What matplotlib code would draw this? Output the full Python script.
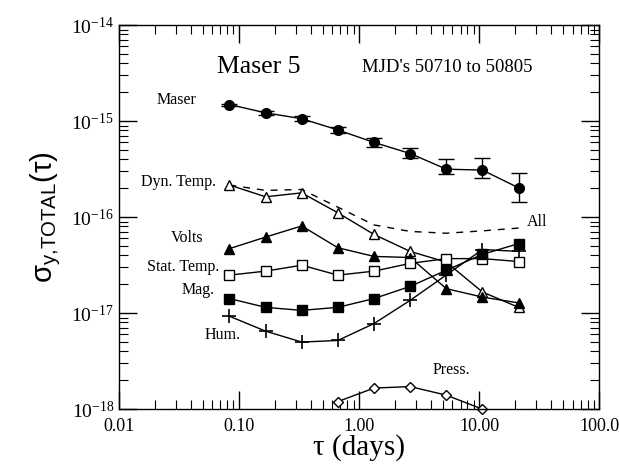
import numpy as np
import matplotlib
matplotlib.use('Agg')
import matplotlib.pyplot as plt
from matplotlib.ticker import LogLocator, FixedLocator, FixedFormatter, NullFormatter

plt.rcParams['font.family'] = ['Liberation Serif', 'DejaVu Serif']
plt.rcParams['mathtext.fontset'] = 'custom'
plt.rcParams['mathtext.rm'] = 'Liberation Serif'
plt.rcParams['mathtext.it'] = 'Liberation Serif:italic'

# averaging times (days)
tau = [0.0833, 0.1667, 0.3333, 0.6667, 1.333, 2.667, 5.333, 10.67, 21.33]

maser = [1.49e-15, 1.22e-15, 1.06e-15, 8.1e-16, 6.0e-16, 4.6e-16, 3.16e-16, 3.09e-16, 2.02e-16]
maser_hi = [1.52e-15, 1.27e-15, 1.13e-15, 8.7e-16, 6.6e-16, 5.3e-16, 4.0e-16, 4.15e-16, 2.85e-16]
maser_lo = [1.43e-15, 1.16e-15, 1.0e-15, 7.6e-16, 5.4e-16, 4.15e-16, 2.8e-16, 2.53e-16, 1.44e-16]
all_tot = [2.16e-16, 1.9e-16, 1.94e-16, 1.27e-16, 8.3e-17, 7.1e-17, 6.8e-17, 7.2e-17, 7.7e-17]
dyn_temp = [2.16e-16, 1.63e-16, 1.79e-16, 1.11e-16, 6.6e-17, 4.4e-17, 3.4e-17, 1.66e-17, 1.15e-17]
volts = [4.7e-17, 6.2e-17, 8.1e-17, 4.8e-17, 3.9e-17, 3.8e-17, 1.8e-17, 1.47e-17, 1.28e-17]
stat_temp = [2.49e-17, 2.74e-17, 3.16e-17, 2.49e-17, 2.74e-17, 3.3e-17, 3.7e-17, 3.7e-17, 3.45e-17]
mag = [1.42e-17, 1.15e-17, 1.07e-17, 1.15e-17, 1.42e-17, 1.9e-17, 2.8e-17, 4.1e-17, 5.3e-17]
hum = [9.3e-18, 6.5e-18, 5.0e-18, 5.2e-18, 7.8e-18, 1.36e-17, 2.5e-17, 4.6e-17, 4.4e-17]
tau_press = [0.6667, 1.333, 2.667, 5.333, 10.67]
press = [1.2e-18, 1.66e-18, 1.72e-18, 1.4e-18, 1.0e-18]

fig = plt.figure(figsize=(6.19, 4.65), dpi=100)
ax = fig.add_axes([0.192, 0.120, 0.776, 0.826])

maser = np.array(maser)
yerr = [maser - np.array(maser_lo), np.array(maser_hi) - maser]
ax.errorbar(tau, maser, yerr=yerr, fmt='-o', color='black', ms=7, lw=1,
            capsize=6, elinewidth=1, capthick=1)
ax.plot(tau, all_tot, color='black', lw=1, ls=(0, (5, 5)))
ax.plot(tau, dyn_temp, '-^', color='black', mfc='white', ms=7, lw=1)
ax.plot(tau, volts, '-^', color='black', ms=7, lw=1)
ax.plot(tau, stat_temp, '-s', color='black', mfc='white', ms=6.5, lw=1)
ax.plot(tau, mag, '-s', color='black', ms=6.5, lw=1)
ax.plot(tau, hum, '-+', color='black', ms=10, mew=1.2, lw=1)
ax.plot(tau_press, press, '-D', color='black', mfc='white', ms=5.5, lw=1, clip_on=False)

ax.set_xscale('log')
ax.set_yscale('log')
ax.set_xlim(0.01, 100)
ax.set_ylim(1e-18, 1e-14)

ax.xaxis.set_major_locator(FixedLocator([0.01, 0.1, 1, 10, 100]))
ax.xaxis.set_major_formatter(FixedFormatter(['0.01', '0.10', '1.00', '10.00', '100.0']))
ax.xaxis.set_minor_locator(LogLocator(base=10, subs=np.arange(2, 10)))
ax.xaxis.set_minor_formatter(NullFormatter())
ax.yaxis.set_major_locator(FixedLocator([1e-18, 1e-17, 1e-16, 1e-15, 1e-14]))
ax.yaxis.set_major_formatter(FixedFormatter([r'$\mathregular{10^{-18}}$', r'$\mathregular{10^{-17}}$',
                                             r'$\mathregular{10^{-16}}$', r'$\mathregular{10^{-15}}$',
                                             r'$\mathregular{10^{-14}}$']))
ax.yaxis.set_minor_locator(LogLocator(base=10, subs=np.arange(2, 10)))
ax.yaxis.set_minor_formatter(NullFormatter())

ax.tick_params(which='both', direction='in', top=True, right=True, labelsize=13)
ax.tick_params(axis='y', labelsize=14)
ax.tick_params(which='major', length=13, width=1)
ax.tick_params(which='minor', length=6.5, width=0.8)
ax.tick_params(axis='x', pad=6)
for s in ax.spines.values():
    s.set_linewidth(1)

ax.set_xlabel('τ (days)', fontsize=21, labelpad=0)
ax.set_ylabel(r'$\mathregular{σ_{y{,}TOTAL}(τ)}$', fontsize=21, family='Liberation Sans', labelpad=6)

ax.text(0.066, 3.65e-15, 'Maser 5', fontsize=18.5, va='center')
ax.text(1.06, 3.65e-15, "MJD's 50710 to 50805", fontsize=13.5, va='center')
lab = dict(fontsize=11.5, va='center', ha='right')
ax.text(0.0447, 1.66e-15, 'Maser', **lab)
ax.text(0.0645, 2.32e-16, 'Dyn. Temp.', **lab)
ax.text(0.0511, 6.04e-17, 'Volts', **lab)
ax.text(0.0681, 3.04e-17, 'Stat. Temp.', **lab)
ax.text(0.0631, 1.74e-17, 'Mag.', **lab)
ax.text(0.104, 5.9e-18, 'Hum.', **lab)
ax.text(4.06, 2.55e-18, 'Press.', fontsize=11.5, va='center')
ax.text(25.1, 8.87e-17, 'All', fontsize=11.5, va='center')

fig.savefig('out.png', dpi=100)
